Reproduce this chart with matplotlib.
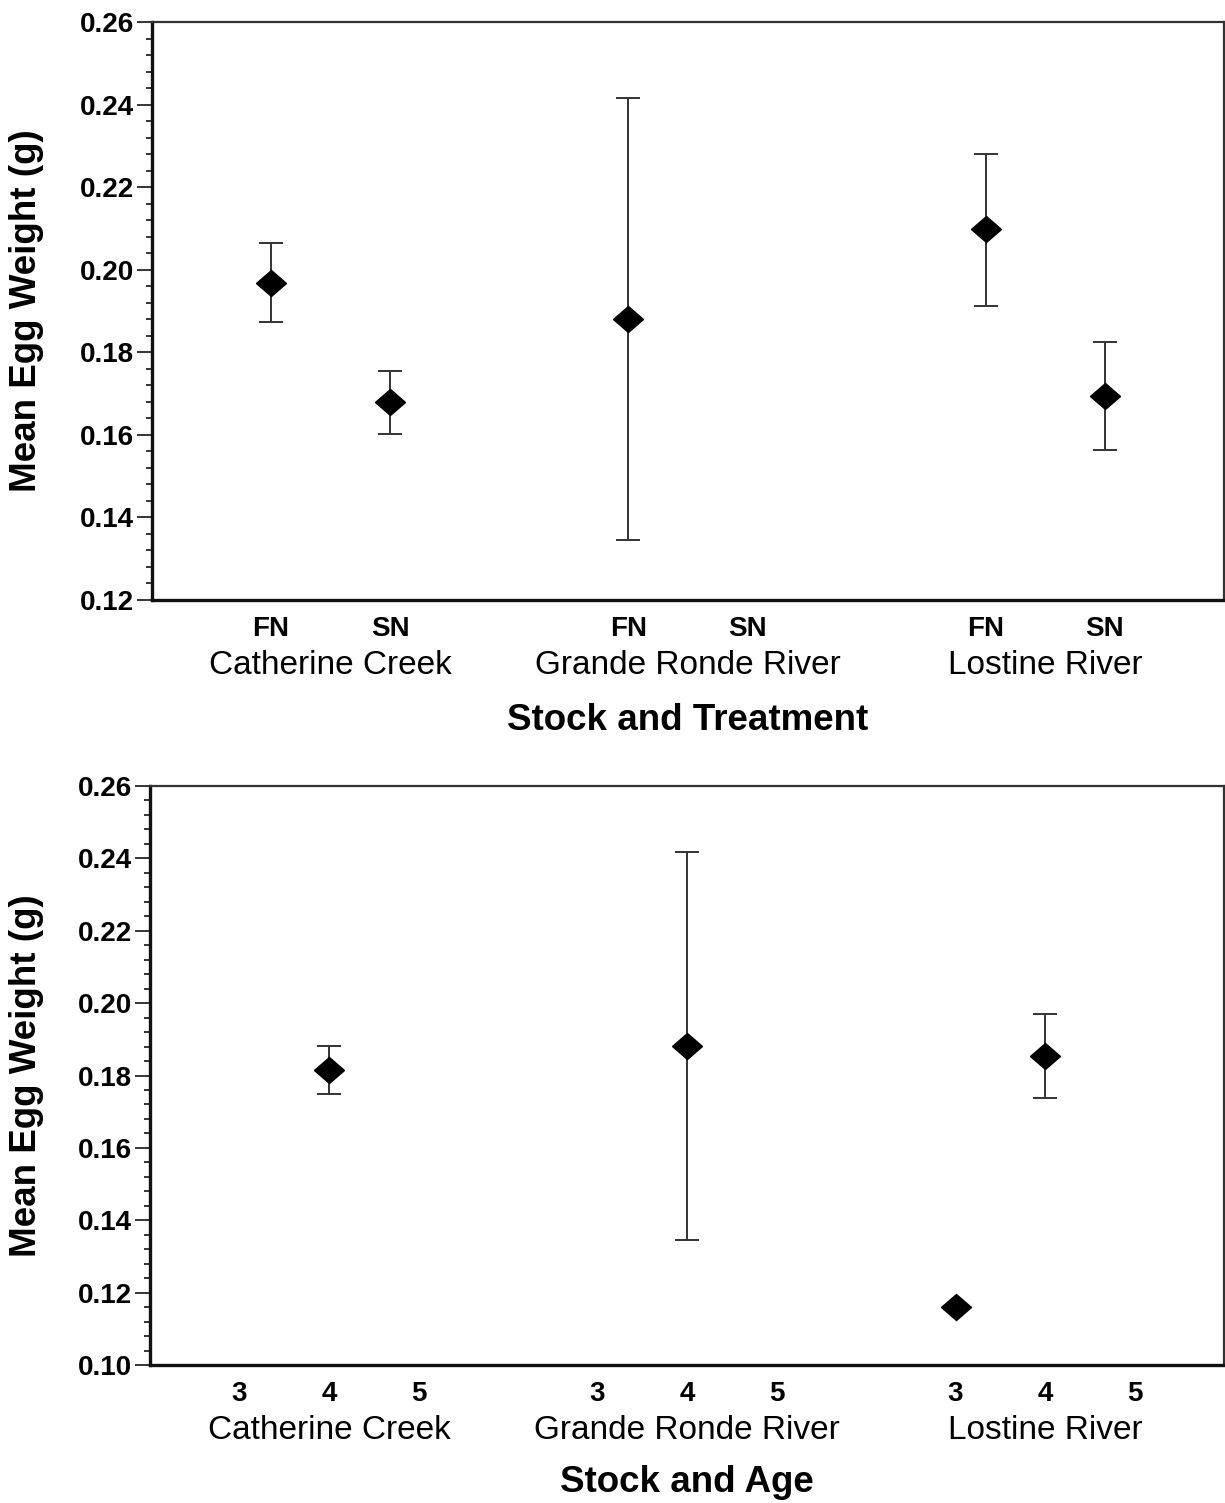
import numpy as np
import matplotlib.pyplot as plt
from matplotlib.markers import MarkerStyle
from matplotlib.transforms import Affine2D
from matplotlib.ticker import MultipleLocator

plt.rcParams["font.family"] = ["Liberation Sans", "DejaVu Sans"]

# top panel: stock and treatment
stocks = ["Catherine Creek", "Grande Ronde River", "Lostine River"]
treat_labels = ["FN", "SN", "FN", "SN", "FN", "SN"]
treat_mean = [0.1968, 0.1680, 0.1881, np.nan, 0.2099, 0.1694]
treat_upper = [0.2065, 0.1755, 0.2416, np.nan, 0.2280, 0.1825]
treat_lower = [0.1873, 0.1602, 0.1345, np.nan, 0.1912, 0.1563]

# bottom panel: stock and age
age_labels = ["3", "4", "5", "3", "4", "5", "3", "4", "5"]
age_mean = [np.nan, 0.1815, np.nan, np.nan, 0.1882, np.nan, 0.1160, 0.1854, np.nan]
age_upper = [np.nan, 0.1882, np.nan, np.nan, 0.2418, np.nan, np.nan, 0.1970, np.nan]
age_lower = [np.nan, 0.1749, np.nan, np.nan, 0.1346, np.nan, np.nan, 0.1738, np.nan]

W, H = 1225, 1503
fig = plt.figure(figsize=(W / 100, H / 100), dpi=100)

def px_axes(left, top, right, bottom):
    return fig.add_axes([left / W, 1 - bottom / H, (right - left) / W, (bottom - top) / H])

diamond = MarkerStyle("D", transform=Affine2D().scale(1.15, 1.0))


def style_axes(ax, ylo, xlabel, labels, positions, group_x, wpx, hpx, left, xlab_off):
    ax.set_ylim(ylo, 0.26)
    ax.yaxis.set_major_locator(MultipleLocator(0.02))
    ax.yaxis.set_minor_locator(MultipleLocator(0.004))
    ax.yaxis.set_major_formatter(plt.FormatStrFormatter("%.2f"))
    for s in ["left", "bottom"]:
        ax.spines[s].set_linewidth(2.4)
        ax.spines[s].set_color("#111111")
    for s in ["top", "right"]:
        ax.spines[s].set_linewidth(1.6)
        ax.spines[s].set_color("#333333")
    ax.tick_params(axis="y", which="major", length=11, width=1.1, pad=2,
                   labelsize=20)
    ax.tick_params(axis="y", which="minor", length=4.5, width=1.1)
    for t in ax.get_yticklabels():
        t.set_fontweight("bold")
    ax.set_xticks(positions, labels, fontsize=20, fontweight="bold")
    ax.tick_params(axis="x", length=0, pad=11.5)
    for gx, name in zip(group_x, stocks):
        ax.text(gx, -65.5 / hpx, name, transform=ax.get_xaxis_transform(),
                ha="center", va="center", fontsize=24)
    ax.text(0.5 * (ax.get_xlim()[0] + ax.get_xlim()[1]), -xlab_off / hpx, xlabel,
            transform=ax.get_xaxis_transform(), ha="center", va="center",
            fontsize=26.5, fontweight="bold")
    ax.set_ylabel("Mean Egg Weight (g)", fontsize=26.5, fontweight="bold")
    ax.yaxis.set_label_coords((44 - left) / wpx, 0.5)


def draw_points(ax, x, mean, upper, lower):
    mean = np.array(mean)
    upper = np.array(upper)
    lower = np.array(lower)
    has_err = ~np.isnan(upper)
    ax.errorbar(x[has_err], mean[has_err],
                yerr=[mean[has_err] - lower[has_err], upper[has_err] - mean[has_err]],
                fmt="none", ecolor="#333333", elinewidth=1.4, capsize=8.5, capthick=1.4)
    ax.plot(x, mean, linestyle="none", marker=diamond, markersize=13,
            color="black", zorder=3)


# ---- top panel
ax1 = px_axes(152, 22, 1224, 600)
x1 = np.array([1, 2, 4, 5, 7, 8])
ax1.set_xlim(0, 9)
draw_points(ax1, x1, treat_mean, treat_upper, treat_lower)
style_axes(ax1, 0.12, "Stock and Treatment", treat_labels, x1, [1.5, 4.5, 7.5],
           1072, 578, 152, 121)

# ---- bottom panel
ax2 = px_axes(150, 786, 1224, 1365)
x2 = np.array([1, 2, 3, 5, 6, 7, 9, 10, 11])
ax2.set_xlim(0, 12)
draw_points(ax2, x2, age_mean, age_upper, age_lower)
style_axes(ax2, 0.10, "Stock and Age", age_labels, x2, [2, 6, 10], 1074, 579, 150, 117.5)

fig.savefig("out.png", dpi=100)
